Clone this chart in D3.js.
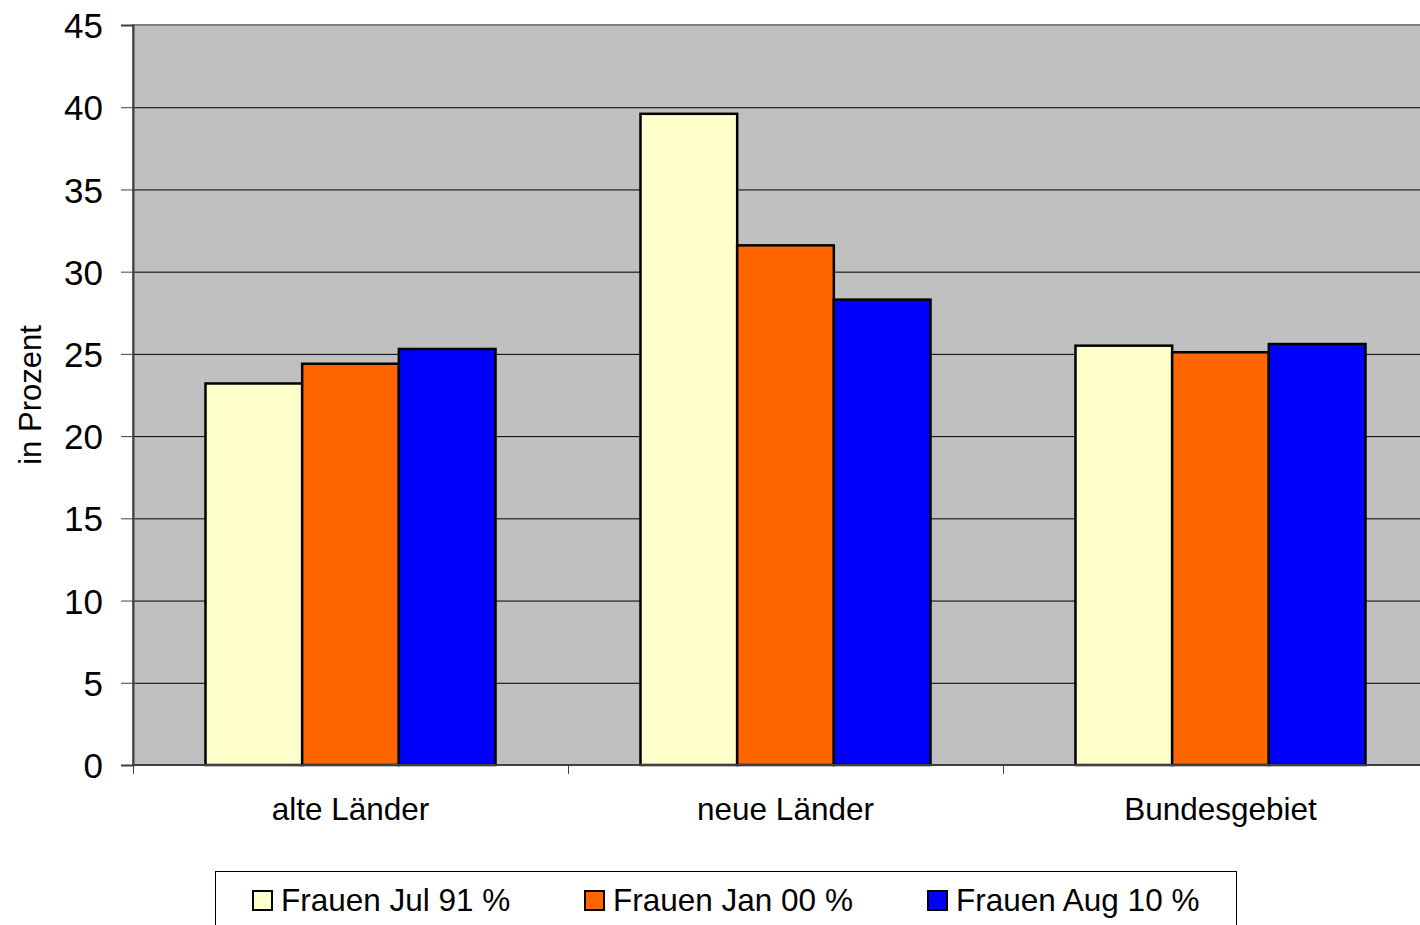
<!DOCTYPE html>
<html><head><meta charset="utf-8">
<script src="https://cdn.jsdelivr.net/npm/d3@7"></script>
<style>
html,body{margin:0;padding:0;background:#fff;overflow:hidden}
svg{display:block;font-family:"Liberation Sans",Arial,sans-serif}
</style></head>
<body>
<svg id="chart" width="1420" height="925"></svg>
<script>
const categories = ["alte Länder", "neue Länder", "Bundesgebiet"];
const seriesNames = ["Frauen Jul 91 %", "Frauen Jan 00 %", "Frauen Aug 10 %"];
const seriesJul91 = [23.2, 39.6, 25.5];
const seriesJan00 = [24.4, 31.6, 25.1];
const seriesAug10 = [25.3, 28.3, 25.6];
const seriesColors = ["#FFFFCC", "#FF6600", "#0000FF"];
const yTicks = [0, 5, 10, 15, 20, 25, 30, 35, 40, 45];
const yTitle = "in Prozent";

(function () {
const allSeries = [seriesJul91, seriesJan00, seriesAug10];
const svg = d3.select("#chart");
const pLeft = 133, pTop = 25, pBottom = 765, bandW = 435;
const pRight = pLeft + bandW * categories.length;

const x0 = d3.scaleBand().domain(categories).range([pLeft, pRight]).paddingInner(0.3333).paddingOuter(0.16667);
const x1 = d3.scaleBand().domain(d3.range(seriesNames.length)).range([0, x0.bandwidth()]);
const y = d3.scaleLinear().domain([0, 45]).range([pBottom, pTop]);

svg.append("rect").attr("x", pLeft).attr("y", pTop).attr("width", pRight - pLeft).attr("height", pBottom - pTop)
  .attr("fill", "#C0C0C0").attr("stroke", "#808080").attr("stroke-width", 2);

svg.append("g").selectAll("line").data(yTicks.filter(d => d > 0 && d < 45)).join("line")
  .attr("x1", pLeft).attr("x2", pRight).attr("y1", d => y(d) + 0.5).attr("y2", d => y(d) + 0.5)
  .attr("stroke", "#000").attr("stroke-width", 1);

const groups = svg.append("g").selectAll("g").data(categories).join("g")
  .attr("transform", c => `translate(${x0(c)},0)`);
groups.selectAll("rect").data((c, i) => allSeries.map((s, j) => ({ j, v: s[i] }))).join("rect")
  .attr("x", d => x1(d.j)).attr("width", x1.bandwidth())
  .attr("y", d => y(d.v)).attr("height", d => pBottom - y(d.v))
  .attr("fill", d => seriesColors[d.j]).attr("stroke", "#000").attr("stroke-width", 2.5);

const yAxis = d3.axisLeft(y).tickValues(yTicks).tickSize(12).tickPadding(18).tickFormat(d3.format("d"));
const ya = svg.append("g").attr("transform", `translate(${pLeft},0)`).call(yAxis);
ya.select(".domain").attr("stroke", "#404040").attr("stroke-width", 2);
ya.selectAll(".tick line").attr("stroke", "#404040");
ya.selectAll("text").attr("font-size", 35).attr("fill", "#000").attr("font-family", "Liberation Sans, Arial, sans-serif").attr("dy", "0.36em");

const xa = svg.append("g").attr("transform", `translate(0,${pBottom})`);
xa.append("line").attr("x1", pLeft).attr("x2", pRight).attr("y1", 0).attr("y2", 0).attr("stroke", "#404040").attr("stroke-width", 2);
xa.selectAll(".xt").data(d3.range(categories.length + 1)).join("line")
  .attr("x1", i => pLeft + i * x0.step() + 0.5).attr("x2", i => pLeft + i * x0.step() + 0.5)
  .attr("y1", 0).attr("y2", 9).attr("stroke", "#404040").attr("stroke-width", 1);
xa.selectAll("text").data(categories).join("text")
  .attr("x", c => x0(c) + x0.bandwidth() / 2).attr("y", 55)
  .attr("text-anchor", "middle").attr("font-size", 31.5).attr("fill", "#000").text(c => c);

svg.append("text").attr("transform", "translate(41,395) rotate(-90)")
  .attr("text-anchor", "middle").attr("font-size", 31).attr("fill", "#000").text(yTitle);

const lg = svg.append("g");
lg.append("rect").attr("x", 215.5).attr("y", 871.5).attr("width", 1021).attr("height", 80)
  .attr("fill", "#fff").attr("stroke", "#000").attr("stroke-width", 1);
const legX = [252, 584, 927];
const li = lg.selectAll("g").data(seriesNames).join("g").attr("transform", (d, i) => `translate(${legX[i]},890)`);
li.append("rect").attr("x", 1).attr("y", 1).attr("width", 19).attr("height", 19)
  .attr("fill", (d, i) => seriesColors[i]).attr("stroke", "#000").attr("stroke-width", 2);
li.append("text").attr("x", 29).attr("y", 21).attr("font-size", 31.5).attr("fill", "#000").text(d => d);
})();
</script>
</body></html>
